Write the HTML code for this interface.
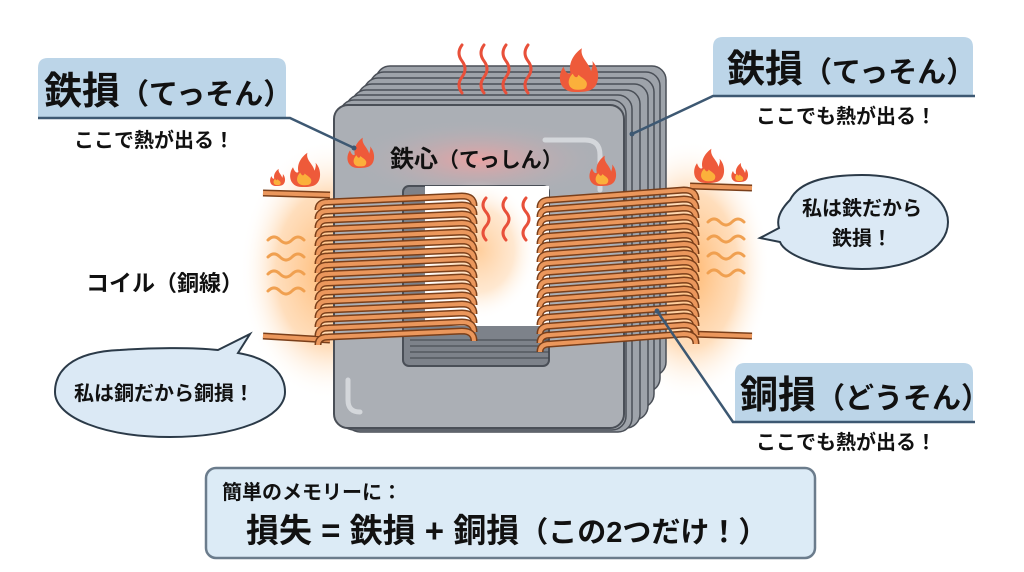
<!DOCTYPE html>
<html><head><meta charset="utf-8"><style>
html,body{margin:0;padding:0;background:#fff;}
svg{display:block;}
text{font-family:"Liberation Sans","Noto Sans CJK JP",sans-serif;font-weight:bold;fill:#111;}
</style></head><body>
<svg width="1024" height="572" viewBox="0 0 1024 572" xmlns="http://www.w3.org/2000/svg">
<defs>
<radialGradient id="og" cx="50%" cy="50%" r="50%">
<stop offset="0" stop-color="#ffb060" stop-opacity="0.9"/>
<stop offset="0.6" stop-color="#ffc890" stop-opacity="0.6"/>
<stop offset="1" stop-color="#fff" stop-opacity="0"/>
</radialGradient>
<radialGradient id="rg" cx="50%" cy="50%" r="50%">
<stop offset="0" stop-color="#f0a0a0" stop-opacity="0.9"/>
<stop offset="1" stop-color="#b0b4ba" stop-opacity="0"/>
</radialGradient>
<g id="flame">
<path d="M0,0 C-14,0 -16,-14 -10,-22 C-8,-16 -5,-15 -4,-17 C-6,-26 0,-34 6,-38 C4,-30 12,-26 14,-18 C15,-22 16,-24 15,-27 C22,-20 22,-6 14,-2 C10,0 4,0 0,0 Z" fill="#ee5a3a"/>
<path d="M2,-2 C-6,-2 -8,-10 -2,-16 C0,-12 2,-12 3,-15 C6,-12 12,-10 10,-5 C9,-2 6,-2 2,-2 Z" fill="#fbb03b"/>
</g>
<path id="wv" d="M0,0 q6,-6 12,0 t12,0 t12,0" fill="none" stroke="#f0a050" stroke-width="3" stroke-linecap="round"/>
<path id="lt" d="M318,8 Q318,0 328,0 L462,-6 Q474,-6 474,4" fill="none" stroke="#7a3f1a" stroke-width="7"/>
<path id="lt2" d="M318,8 Q318,0 328,0 L462,-6 Q474,-6 474,4" fill="none" stroke="#eb975c" stroke-width="4"/>
<path id="rt" d="M540,10 Q540,2 550,2 L684,-8 Q696,-8 696,2" fill="none" stroke="#7a3f1a" stroke-width="7"/>
<path id="rt2" d="M540,10 Q540,2 550,2 L684,-8 Q696,-8 696,2" fill="none" stroke="#eb975c" stroke-width="4"/>
</defs>

<ellipse cx="330" cy="270" rx="90" ry="130" fill="url(#og)"/>
<ellipse cx="690" cy="270" rx="80" ry="130" fill="url(#og)"/>
<ellipse cx="478" cy="265" rx="55" ry="110" fill="url(#og)"/>

<g fill="#9ea3aa" stroke="#4a4f57" stroke-width="1.5">
<rect x="376" y="66" width="290" height="310" rx="14"/>
<rect x="370" y="72" width="290" height="320" rx="14"/>
<rect x="364" y="78" width="290" height="330" rx="14"/>
<rect x="358" y="84" width="290" height="336" rx="14"/>
<rect x="352" y="90" width="288" height="338" rx="14"/>
<rect x="346" y="95" width="286" height="337" rx="14"/>
<rect x="340" y="100" width="286" height="330" rx="14"/>
</g>
<rect x="334" y="105" width="290" height="323" rx="14" fill="#abafb5" stroke="#4a4f57" stroke-width="2"/>
<ellipse cx="478" cy="160" rx="130" ry="40" fill="url(#rg)"/>
<rect x="403" y="186" width="146" height="180" rx="6" fill="#7d828a" stroke="#4a4f57" stroke-width="2"/>
<rect x="425" y="186" width="124" height="140" fill="#fff"/>
<ellipse cx="478" cy="250" rx="60" ry="70" fill="url(#og)" opacity="0.7"/>
<g stroke="#3f444b" stroke-width="1">
<line x1="410" y1="340" x2="549" y2="340"/><line x1="410" y1="346" x2="549" y2="346"/><line x1="410" y1="352" x2="549" y2="352"/><line x1="410" y1="358" x2="549" y2="358"/>
</g>
<path d="M348,380 L348,400 Q348,412 360,412" fill="none" stroke="#d4d7db" stroke-width="5" stroke-linecap="round"/>
<path d="M545,140 L585,140 Q600,140 600,155 L600,190" fill="none" stroke="#d4d7db" stroke-width="5" stroke-linecap="round"/>

<line x1="263" y1="193" x2="330" y2="195" stroke="#7a3f1a" stroke-width="7"/>
<line x1="263" y1="193" x2="330" y2="195" stroke="#eb975c" stroke-width="4"/>
<line x1="263" y1="336" x2="330" y2="340" stroke="#7a3f1a" stroke-width="7"/>
<line x1="263" y1="336" x2="330" y2="340" stroke="#eb975c" stroke-width="4"/>
<line x1="690" y1="186" x2="752" y2="188" stroke="#7a3f1a" stroke-width="7"/>
<line x1="690" y1="186" x2="752" y2="188" stroke="#eb975c" stroke-width="4"/>
<line x1="690" y1="334" x2="752" y2="336" stroke="#7a3f1a" stroke-width="7"/>
<line x1="690" y1="334" x2="752" y2="336" stroke="#eb975c" stroke-width="4"/>

<g>
<use href="#lt" y="202"/><use href="#lt2" y="202"/>
<use href="#lt" y="211"/><use href="#lt2" y="211"/>
<use href="#lt" y="220"/><use href="#lt2" y="220"/>
<use href="#lt" y="229"/><use href="#lt2" y="229"/>
<use href="#lt" y="238"/><use href="#lt2" y="238"/>
<use href="#lt" y="247"/><use href="#lt2" y="247"/>
<use href="#lt" y="256"/><use href="#lt2" y="256"/>
<use href="#lt" y="265"/><use href="#lt2" y="265"/>
<use href="#lt" y="274"/><use href="#lt2" y="274"/>
<use href="#lt" y="283"/><use href="#lt2" y="283"/>
<use href="#lt" y="292"/><use href="#lt2" y="292"/>
<use href="#lt" y="301"/><use href="#lt2" y="301"/>
<use href="#lt" y="310"/><use href="#lt2" y="310"/>
<use href="#lt" y="319"/><use href="#lt2" y="319"/>
<use href="#lt" y="328"/><use href="#lt2" y="328"/>
<use href="#lt" y="337"/><use href="#lt2" y="337"/>
</g>
<g>
<use href="#rt" y="198"/><use href="#rt2" y="198"/>
<use href="#rt" y="207"/><use href="#rt2" y="207"/>
<use href="#rt" y="216"/><use href="#rt2" y="216"/>
<use href="#rt" y="225"/><use href="#rt2" y="225"/>
<use href="#rt" y="234"/><use href="#rt2" y="234"/>
<use href="#rt" y="243"/><use href="#rt2" y="243"/>
<use href="#rt" y="252"/><use href="#rt2" y="252"/>
<use href="#rt" y="261"/><use href="#rt2" y="261"/>
<use href="#rt" y="270"/><use href="#rt2" y="270"/>
<use href="#rt" y="279"/><use href="#rt2" y="279"/>
<use href="#rt" y="288"/><use href="#rt2" y="288"/>
<use href="#rt" y="297"/><use href="#rt2" y="297"/>
<use href="#rt" y="306"/><use href="#rt2" y="306"/>
<use href="#rt" y="315"/><use href="#rt2" y="315"/>
<use href="#rt" y="324"/><use href="#rt2" y="324"/>
<use href="#rt" y="333"/><use href="#rt2" y="333"/>
<use href="#rt" y="342"/><use href="#rt2" y="342"/>
</g>

<g fill="none" stroke="#e8503a" stroke-width="3" stroke-linecap="round">
<path d="M462,45 q-6,8 0,16 t0,16 t0,16"/>
<path d="M484,45 q-6,8 0,16 t0,16 t0,16"/>
<path d="M506,45 q-6,8 0,16 t0,16 t0,16"/>
<path d="M528,45 q-6,8 0,16 t0,16 t0,16"/>
<path d="M486,198 q-6,7 0,14 t0,14 t0,14"/>
<path d="M506,198 q-6,7 0,14 t0,14 t0,14"/>
<path d="M526,198 q-6,7 0,14 t0,14 t0,14"/>
</g>
<g>
<use href="#wv" x="268" y="240"/><use href="#wv" x="268" y="257"/><use href="#wv" x="268" y="274"/><use href="#wv" x="268" y="291"/>
<use href="#wv" x="708" y="222"/><use href="#wv" x="708" y="239"/><use href="#wv" x="708" y="256"/><use href="#wv" x="708" y="273"/>
</g>

<use href="#flame" transform="translate(575,92) scale(1.15)"/>
<use href="#flame" transform="translate(358,168) scale(0.8)"/>
<use href="#flame" transform="translate(600,186) scale(0.8)"/>
<use href="#flame" transform="translate(302,187) scale(0.9)"/>
<use href="#flame" transform="translate(276,186) scale(0.45)"/>
<use href="#flame" transform="translate(706,183) scale(0.9)"/>
<use href="#flame" transform="translate(738,182) scale(0.5)"/>

<text x="390" y="167" font-size="24">鉄心<tspan font-size="21">（てっしん）</tspan></text>

<path d="M38,118 L38,68 Q38,58 48,58 L276,58 Q286,58 286,68 L286,118 Z" fill="#bcd5e8"/>
<polyline points="38,118 290,118 354,148" fill="none" stroke="#3d5872" stroke-width="2.5"/>
<circle cx="354" cy="148" r="2.5" fill="#3d5872"/>
<text x="44" y="104" font-size="38">鉄損<tspan font-size="29">（てっそん）</tspan></text>
<text x="74" y="147" font-size="20">ここで熱が出る！</text>

<path d="M713,96 L713,47 Q713,37 723,37 L963,37 Q973,37 973,47 L973,96 Z" fill="#bcd5e8"/>
<polyline points="975,96 713,96 632,134" fill="none" stroke="#3d5872" stroke-width="2.5"/>
<circle cx="632" cy="134" r="2.5" fill="#3d5872"/>
<text x="727" y="82" font-size="38">鉄損<tspan font-size="29">（てっそん）</tspan></text>
<text x="756" y="123" font-size="20">ここでも熱が出る！</text>

<path d="M735,422 L735,373 Q735,363 745,363 L963,363 Q973,363 973,373 L973,422 Z" fill="#bcd5e8"/>
<polyline points="975,422 733,422 657,311" fill="none" stroke="#3d5872" stroke-width="2.5"/>
<circle cx="657" cy="311" r="2.5" fill="#3d5872"/>
<text x="740" y="408" font-size="38">銅損<tspan font-size="29">（どうそん）</tspan></text>
<text x="756" y="449" font-size="20">ここでも熱が出る！</text>

<text x="86" y="291" font-size="23">コイル<tspan font-size="22">（銅線）</tspan></text>

<path d="M120,350 C70,352 55,372 55,392 C55,418 105,437 170,437 C235,437 285,418 285,392 C285,372 268,358 238,353 L250,334 L218,350 C190,347 150,348 120,350 Z" fill="#dbe9f5" stroke="#2b3a48" stroke-width="2"/>
<text x="74" y="400" font-size="20">私は銅だから銅損！</text>

<path d="M790,200 C800,180 830,175 862,175 C910,175 948,195 948,222 C948,250 910,269 862,269 C820,269 785,255 780,242 L760,238 L779,228 C776,218 782,208 790,200 Z" fill="#dbe9f5" stroke="#2b3a48" stroke-width="2"/>
<text x="862" y="215" font-size="20" text-anchor="middle">私は鉄だから</text>
<text x="862" y="245" font-size="20" text-anchor="middle">鉄損！</text>

<rect x="206" y="468" width="609" height="90" rx="10" fill="#dcebf6" stroke="#6b7c8c" stroke-width="2.5"/>
<text x="222" y="499" font-size="20">簡単のメモリーに：</text>
<text x="246" y="542" font-size="33">損失 = 鉄損 + 銅損<tspan font-size="29">（この2つだけ！）</tspan></text>
</svg>
</body></html>
